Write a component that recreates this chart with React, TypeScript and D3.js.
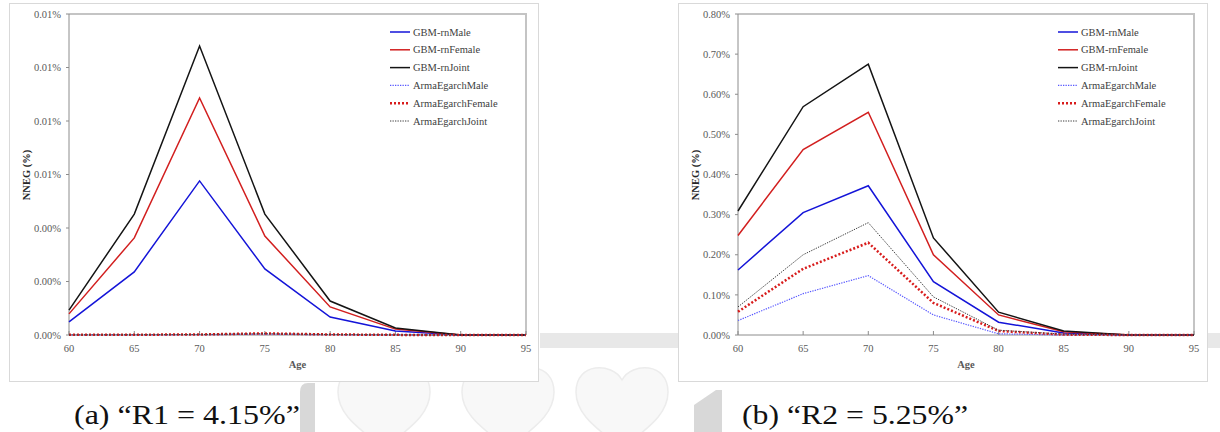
import React from "react";
import * as d3 from "d3";

const ages = [60, 65, 70, 75, 80, 85, 90, 95];
const seriesNames = ["GBM-rnMale", "GBM-rnFemale", "GBM-rnJoint", "ArmaEgarchMale", "ArmaEgarchFemale", "ArmaEgarchJoint"];

// Panel (a) values in %
const aGbmMale = [0.00049, 0.00236, 0.00576, 0.00247, 0.00067, 0.00015, 0, 0];
const aGbmFemale = [0.00079, 0.00363, 0.00886, 0.0037, 0.00105, 0.00022, 0, 0];
const aGbmJoint = [0.00093, 0.00452, 0.0108, 0.00452, 0.00127, 0.00026, 0, 0];
const aArmaMale = [0.0, 0.000005, 0.00001, 0.00003, 0.00001, 0, 0, 0];
const aArmaFemale = [0.000005, 0.00001, 0.00002, 0.00006, 0.00002, 0.000005, 0, 0];
const aArmaJoint = [0.000005, 0.00001, 0.00002, 0.00005, 0.00002, 0.000005, 0, 0];
const aTicks = [0, 0.002, 0.004, 0.006, 0.008, 0.01, 0.012];

// Panel (b) values in %
const bGbmMale = [0.162, 0.305, 0.372, 0.133, 0.032, 0.005, 0, 0];
const bGbmFemale = [0.248, 0.462, 0.555, 0.2, 0.05, 0.008, 0, 0];
const bGbmJoint = [0.309, 0.569, 0.675, 0.242, 0.057, 0.01, 0, 0];
const bArmaMale = [0.036, 0.103, 0.148, 0.05, 0.003, 0, 0, 0];
const bArmaFemale = [0.058, 0.165, 0.23, 0.08, 0.01, 0.001, 0, 0];
const bArmaJoint = [0.07, 0.2, 0.28, 0.095, 0.012, 0.002, 0, 0];
const bTicks = [0, 0.1, 0.2, 0.3, 0.4, 0.5, 0.6, 0.7, 0.8];

const captions = ["(a) \u201CR1 = 4.15%\u201D", "(b) \u201CR2 = 5.25%\u201D"];

const styles = [
  { color: "#1414d8", width: 1.5, dash: "" },
  { color: "#d21f1f", width: 1.5, dash: "" },
  { color: "#141414", width: 1.5, dash: "" },
  { color: "#5858ff", width: 1.2, dash: "1.3 1.2" },
  { color: "#d81c1c", width: 2.5, dash: "2 2" },
  { color: "#3a3a3a", width: 1, dash: "1.3 1.2" },
];

const FONT = "Liberation Serif, Times New Roman, Tinos, DejaVu Serif, Noto Serif, serif";

function Panel({ ox, x0, x1, yMax, ticks, series }: any) {
  const x = d3.scaleLinear().domain([60, 95]).range([x0, x1]);
  const y = d3.scaleLinear().domain([0, yMax]).range([335, 14]);
  const line = d3
    .line<number>()
    .x((_, i) => x(ages[i]))
    .y((d) => y(d));
  const fmt = (v: number) => v.toFixed(2) + "%";
  const legX = x1 - 136;
  const tstyle = { fontFamily: FONT };
  return (
    <g style={tstyle}>
      <rect x={ox + 0.5} y={3.5} width={529} height={378} fill="#fff" stroke="#d9d9d9" strokeWidth={1} />
      <line x1={x0} x2={x1} y1={14} y2={14} stroke="#c4c4c4" strokeWidth={2} />
      <line x1={x1} x2={x1} y1={13} y2={335} stroke="#c4c4c4" strokeWidth={2} />
      <line x1={x0} x2={x0} y1={14} y2={335} stroke="#8c8c8c" strokeWidth={1} />
      <line x1={x0} x2={x1} y1={335} y2={335} stroke="#8c8c8c" strokeWidth={1} />
      {ticks.map((t: number, i: number) => (
        <g key={"y" + i}>
          <line x1={x0 - 3} x2={x0} y1={y(t)} y2={y(t)} stroke="#8c8c8c" />
          <text x={x0 - 8} y={y(t)} dy="0.35em" textAnchor="end" fontSize={10.5} fill="#595959" style={tstyle}>
            {fmt(t)}
          </text>
        </g>
      ))}
      {ages.map((a) => (
        <g key={"x" + a}>
          <line x1={x(a)} x2={x(a)} y1={335} y2={331} stroke="#8c8c8c" />
          <text x={x(a)} y={352} textAnchor="middle" fontSize={10.5} fill="#595959" style={tstyle}>
            {a}
          </text>
        </g>
      ))}
      <text x={(x0 + x1) / 2} y={368} textAnchor="middle" fontSize={10.5} fontWeight="bold" fill="#595959" style={tstyle}>
        Age
      </text>
      <text
        transform={`translate(${x0 - 39},175) rotate(-90)`}
        textAnchor="middle"
        fontSize={10.5}
        fontWeight="bold"
        fill="#262626"
        style={tstyle}
      >
        NNEG (%)
      </text>
      {series.map((s: number[], i: number) => (
        <path
          key={"s" + i}
          d={line(s) || ""}
          fill="none"
          stroke={styles[i].color}
          strokeWidth={styles[i].width}
          strokeDasharray={styles[i].dash}
        />
      ))}
      {seriesNames.map((n, i) => {
        const ly = 32 + i * 17.8;
        return (
          <g key={"l" + i}>
            <line
              x1={legX}
              x2={legX + 20}
              y1={ly}
              y2={ly}
              stroke={styles[i].color}
              strokeWidth={styles[i].width}
              strokeDasharray={styles[i].dash}
            />
            <text x={legX + 23} y={ly} dy="0.35em" fontSize={10.5} fill="#404040" style={tstyle}>
              {n}
            </text>
          </g>
        );
      })}
    </g>
  );
}

function Heart({ cx, top }: { cx: number; top: number }) {
  const w = 46;
  const d = `M ${cx} ${top + 14} C ${cx - 10} ${top - 4}, ${cx - w} ${top - 4}, ${cx - w} ${top + 26} C ${cx - w} ${top + 55}, ${cx - 10} ${top + 70}, ${cx} ${top + 85} C ${cx + 10} ${top + 70}, ${cx + w} ${top + 55}, ${cx + w} ${top + 26} C ${cx + w} ${top - 4}, ${cx + 10} ${top - 4}, ${cx} ${top + 14} Z`;
  return <path d={d} fill="#f8f8f8" stroke="#ececec" strokeWidth={1.5} />;
}

export default function App() {
  return (
    <svg width={1220} height={432} style={{ position: "absolute", left: 0, top: 0, background: "#fff" }}>
      <rect x={540} y={333} width={140} height={15} fill="#e8e8e8" />
      <rect x={1207} y={333} width={13} height={15} fill="#e8e8e8" />
      <Heart cx={384} top={366} />
      <Heart cx={508} top={366} />
      <Heart cx={622} top={366} />
      <path d="M 300 432 L 300 392 Q 300 383 308 383 L 315 383 L 315 432 Z" fill="#d8d8d8" />
      <path d="M 694 432 L 694 405 L 716 390 L 722 390 L 722 432 Z" fill="#d8d8d8" />
      <Panel
        ox={9}
        x0={69}
        x1={526}
        yMax={0.012}
        ticks={aTicks}
        series={[aGbmMale, aGbmFemale, aGbmJoint, aArmaMale, aArmaFemale, aArmaJoint]}
      />
      <Panel
        ox={678}
        x0={738}
        x1={1194}
        yMax={0.8}
        ticks={bTicks}
        series={[bGbmMale, bGbmFemale, bGbmJoint, bArmaMale, bArmaFemale, bArmaJoint]}
      />
      <text x={74} y={424} fontSize={28} fill="#111" style={{ fontFamily: FONT }} textLength={226} lengthAdjust="spacingAndGlyphs">
        {captions[0]}
      </text>
      <text x={742} y={424} fontSize={28} fill="#111" style={{ fontFamily: FONT }} textLength={226} lengthAdjust="spacingAndGlyphs">
        {captions[1]}
      </text>
    </svg>
  );
}
